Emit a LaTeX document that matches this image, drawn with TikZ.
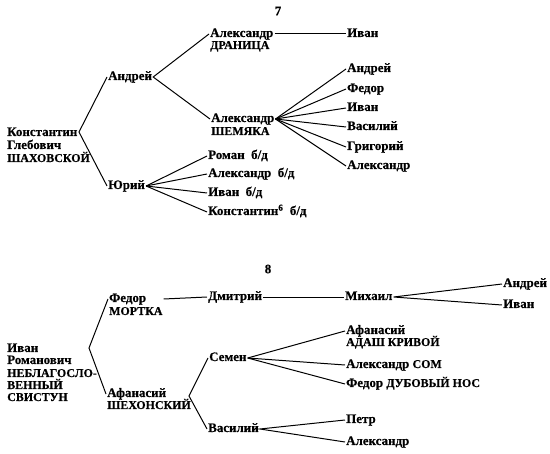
\documentclass[tikz,border=0pt]{standalone}
\usepackage{fontspec}
\setmainfont{Liberation Serif}[BoldFeatures={FakeBold=0.4}]
\newcommand{\up}[1]{{\fontsize{12}{13}\selectfont #1}}
\begin{document}
\begin{tikzpicture}[x=1bp, y=-1bp, font=\fontsize{13}{14}\selectfont\bfseries, % {{{
  nm/.style={anchor=west, inner sep=1pt, text height=8pt, text depth=2pt},
  br/.style={line width=1pt}]
\useasboundingbox (0,0) rectangle (550,454);
\begin{scope} % Таблица 7 {{{
\node (num7) at (278,11) {7};
\node[nm] (kgs1) at (6,133) {Константин};
\node[nm] (kgs2) at (6,146) {Глебович};
\node[nm] (kgs3) at (6,159) {\up{ШАХОВСКОЙ}};
\coordinate (kgs-v) at (79,132);
\node[nm] (andr) at (107,77) {Андрей};
\node[nm] (yur) at (107,186) {Юрий};
\draw[br] (andr.west) -- (kgs-v) -- (yur.west);
% Андрей
\node[nm] (aldr) at (209,34) {Александр};
\node[nm] (dran) at (209,46) {\up{ДРАНИЦА}};
\node[nm] (alsh) at (210,119) {Александр};
\node[nm] (shem) at (210,132) {\up{ШЕМЯКА}};
\draw[br] (aldr.west) -- (andr.east) -- (alsh.west);
\node[nm] (ivdr) at (346,34) {Иван};
\draw[br] (aldr.east) -- (ivdr.west);
    \foreach \y/\name [count=\i] in {69/Андрей, 89/Федор, 108/Иван,
      127/Василий, 147/Григорий, 166/Александр} {
      \node[nm] (sh\i) at (346,\y) {\name};
      \draw[br] (alsh.east) -- (sh\i.west);
    }
% Юрий
    \foreach \y/\name [count=\i] in {156/{Роман\ \ б/д}, 174/{Александр\ \ б/д},
      193/{Иван\ \ б/д}, 212/{Константин\textsuperscript{6}\ \ б/д}} {
      \node[nm] (yu\i) at (207,\y) {\name};
      \draw[br] (yur.east) -- (yu\i.west);
    }
\end{scope} % }}}
\begin{scope} % Таблица 8 {{{
\node (num8) at (268,269) {8};
\node[nm] (irn1) at (6,349) {Иван};
\node[nm] (irn2) at (6,361) {Романович};
\node[nm] (irn3) at (6,374) {\up{НЕБЛАГОСЛО-}};
\node[nm] (irn4) at (6,386) {\up{ВЕННЫЙ}};
\node[nm] (irn5) at (6,398) {\up{СВИСТУН}};
\coordinate (irn-v) at (89,348);
\node[nm] (ford) at (108,299) {Федор};
\node[nm] (mort) at (108,312) {\up{МОРТКА}};
\node[nm] (afan) at (106,394) {Афанасий};
\node[nm] (shek) at (106,406) {\up{ШЕХОНСКИЙ}};
\draw[br] (ford.west) -- (irn-v) -- (afan.west);
% Федор
\node[nm] (dmit) at (207,297) {Дмитрий};
\node[nm] (mikh) at (344,297) {Михаил};
\draw[br] (mort.east |- ford.east) -- (dmit.west);
\draw[br] (dmit.east) -- (mikh.west);
\node[nm] (mian) at (502,284) {Андрей};
\node[nm] (miiv) at (502,305) {Иван};
\draw[br] (mian.west) -- (mikh.east) -- (miiv.west);
% Афанасий
\coordinate (afan-v) at (189,396);
\node[nm] (sem) at (208,358) {Семен};
\node[nm] (vas) at (207,429) {Василий};
\draw[br] (sem.west) -- (afan-v) -- (vas.west);
\node[nm] (seaf) at (345,331) {Афанасий};
\node[nm] (adas) at (345,343) {\up{АДАШ КРИВОЙ}};
\node[nm] (seal) at (345,365) {Александр \up{СОМ}};
\node[nm] (sefe) at (345,384) {Федор \up{ДУБОВЫЙ НОС}};
    \foreach \n in {seaf,seal,sefe} {
      \draw[br] (sem.east) -- (\n.west);
    }
\node[nm] (vape) at (345,420) {Петр};
\node[nm] (vaal) at (345,442) {Александр};
\draw[br] (vape.west) -- (vas.east) -- (vaal.west);
\end{scope} % }}}
\end{tikzpicture} % }}}
\end{document}
